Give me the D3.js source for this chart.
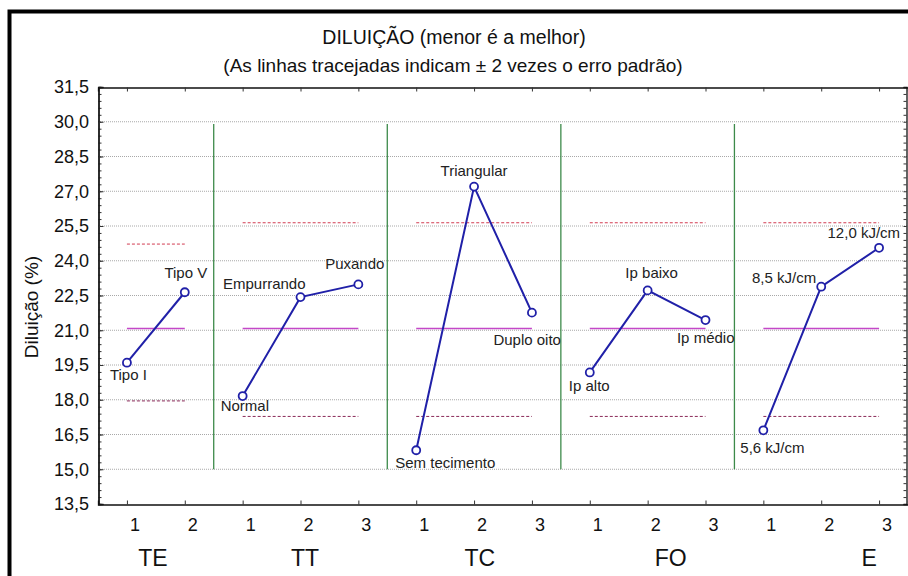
<!DOCTYPE html>
<html lang="pt">
<head>
<meta charset="UTF-8">
<title>Diluição</title>
<style>
    body { margin: 0; background: #fff; }
    svg { display: block; }
    text { font-family: "Liberation Sans", Arial, sans-serif; fill: #111; }
</style>
<script src="https://d3js.org/d3.v7.min.js"></script>
</head>
<body>
<svg width="908" height="576"></svg>
<script>
// factors and their levels
const groups = ["TE", "TT", "TC", "FO", "E"];
const levelNames = [
    ["Tipo I", "Tipo V"],
    ["Normal", "Empurrando", "Puxando"],
    ["Sem tecimento", "Triangular", "Duplo oito"],
    ["Ip alto", "Ip baixo", "Ip médio"],
    ["5,6 kJ/cm", "8,5 kJ/cm", "12,0 kJ/cm"]
];
// mean dilution (%) per level
const means = [
    [19.6, 22.64],
    [18.16, 22.43, 22.98],
    [15.82, 27.2, 21.76],
    [19.18, 22.72, 21.44],
    [16.68, 22.88, 24.56]
];
const grandMean = 21.08;
const upperLimit = [24.72, 25.64, 25.64, 25.64, 25.64];
const lowerLimit = [17.95, 17.28, 17.28, 17.28, 17.28];
const yTicks = [13.5, 15.0, 16.5, 18.0, 19.5, 21.0, 22.5, 24.0, 25.5, 27.0, 28.5, 30.0, 31.5];

// where each level label sits relative to its point
const labelPlace = [
    [{a: "start", dx: -17, dy: 12}, {a: "middle", dx: 1, dy: -20}],
    [{a: "start", dx: -22, dy: 10}, {a: "end", dx: 5, dy: -14}, {a: "end", dx: 26, dy: -21}],
    [{a: "start", dx: -21, dy: 12}, {a: "middle", dx: 0, dy: -16}, {a: "end", dx: 29, dy: 27}],
    [{a: "start", dx: -21, dy: 13}, {a: "middle", dx: 4, dy: -18}, {a: "end", dx: 29, dy: 18}],
    [{a: "start", dx: -23, dy: 17}, {a: "end", dx: -5, dy: -9}, {a: "end", dx: 21, dy: -15}]
];
const groupLabelSlot = [0.45, 3.08, 6.1, 9.4, 12.83];

const svg = d3.select("svg");
const plotL = 98, plotR = 908, plotT = 87, plotB = 504;

// every level gets one slot along x
let offsets = [], n = 0;
means.forEach(m => { offsets.push(n); n += m.length; });

const x = d3.scaleLinear().domain([-0.5, n - 0.5]).range([plotL, plotR]);
const y = d3.scaleLinear().domain([13.5, 31.5]).range([plotB, plotT]);
const fmt = v => d3.format(".1f")(v).replace(".", ",");

// frame (only top and left visible)
svg.append("rect")
    .attr("x", 9.5).attr("y", 11.5)
    .attr("width", 1200).attr("height", 1200)
    .attr("fill", "none").attr("stroke", "#000").attr("stroke-width", 4);

svg.append("text")
    .attr("x", 454).attr("y", 44)
    .attr("text-anchor", "middle")
    .style("font-size", "19.5px")
    .text("DILUIÇÃO (menor é a melhor)");

svg.append("text")
    .attr("x", 453).attr("y", 72)
    .attr("text-anchor", "middle")
    .style("font-size", "19px")
    .text("(As linhas tracejadas indicam ± 2 vezes o erro padrão)");

// grid
svg.append("g")
    .selectAll("line")
    .data(yTicks.filter(t => t > 13.5 && t < 31.5))
    .enter().append("line")
    .attr("x1", plotL).attr("x2", plotR)
    .attr("y1", d => y(d)).attr("y2", d => y(d))
    .attr("stroke", "#a8a8a8").attr("stroke-dasharray", "1,1");

// axes (tick marks inside)
const minor = d3.range(13.5, 31.51, 0.3);
svg.append("g").attr("transform", `translate(${plotL + 0.5},0)`)
    .call(d3.axisLeft(y).tickValues(minor).tickSize(-3).tickFormat(""));
svg.append("g").attr("transform", `translate(${plotL + 0.5},0)`)
    .call(d3.axisLeft(y).tickValues(yTicks).tickSize(-5).tickFormat(""));
svg.append("g").attr("transform", `translate(${plotR - 1.5},0)`)
    .call(d3.axisRight(y).tickValues(minor).tickSize(-3).tickFormat(""));

const slots = d3.range(n);
svg.append("g").attr("transform", `translate(0,${plotB + 0.5})`)
    .call(d3.axisBottom(x).tickValues(slots).tickSize(-4).tickFormat(""));
svg.append("g").attr("transform", `translate(0,${plotT + 0.5})`)
    .call(d3.axisTop(x).tickValues(slots).tickSize(-4).tickFormat(""));

svg.selectAll(".domain").attr("stroke", "#111").attr("stroke-width", 1.3);
svg.selectAll(".tick line").attr("stroke", "#333");

// y tick labels
svg.append("g").selectAll("text")
    .data(yTicks).enter().append("text")
    .attr("x", plotL - 9).attr("y", d => y(d))
    .attr("dy", "0.36em")
    .attr("text-anchor", "end")
    .style("font-size", "18px")
    .text(fmt);

svg.append("text")
    .attr("transform", `translate(38,${y(22.0)}) rotate(-90)`)
    .attr("text-anchor", "middle")
    .style("font-size", "19px")
    .text("Diluição (%)");

// separators between factors
svg.append("g").selectAll("line")
    .data(offsets.slice(1)).enter().append("line")
    .attr("x1", d => x(d - 0.5)).attr("x2", d => x(d - 0.5))
    .attr("y1", y(29.9)).attr("y2", y(15))
    .attr("stroke", "#3d8a4a").attr("stroke-width", 1.3);

const panel = svg.append("g").selectAll("g")
    .data(means).enter().append("g");

panel.each(function (m, g) {
    const p = d3.select(this);
    const x0 = x(offsets[g]), x1 = x(offsets[g] + m.length - 1);

    p.append("line")
        .attr("x1", x0).attr("x2", x1)
        .attr("y1", y(upperLimit[g])).attr("y2", y(upperLimit[g]))
        .attr("stroke", "#d23c52").attr("stroke-dasharray", "3,2");
    p.append("line")
        .attr("x1", x0).attr("x2", x1)
        .attr("y1", y(lowerLimit[g])).attr("y2", y(lowerLimit[g]))
        .attr("stroke", "#8a2a58").attr("stroke-dasharray", "3,2");
    p.append("line")
        .attr("x1", x0).attr("x2", x1)
        .attr("y1", Math.round(y(grandMean)) + 0.5).attr("y2", Math.round(y(grandMean)) + 0.5)
        .attr("stroke", "#c448c8").attr("stroke-width", 1.5);

    const line = d3.line()
        .x((d, j) => x(offsets[g] + j))
        .y(d => y(d));
    p.append("path")
        .attr("d", line(m))
        .attr("fill", "none")
        .attr("stroke", "#2020a8").attr("stroke-width", 2);

    p.selectAll("circle").data(m).enter().append("circle")
        .attr("cx", (d, j) => x(offsets[g] + j))
        .attr("cy", d => y(d))
        .attr("r", 4)
        .attr("fill", "#fff")
        .attr("stroke", "#2020a8").attr("stroke-width", 1.8);

    p.selectAll("text.lvl").data(m).enter().append("text")
        .attr("class", "lvl")
        .attr("x", (d, j) => x(offsets[g] + j) + labelPlace[g][j].dx)
        .attr("y", (d, j) => y(d) + labelPlace[g][j].dy)
        .attr("dy", "0.36em")
        .attr("text-anchor", (d, j) => labelPlace[g][j].a)
        .style("font-size", "15px")
        .style("fill", "#222")
        .text((d, j) => levelNames[g][j]);

    // level numbers under the axis
    p.selectAll("text.num").data(m).enter().append("text")
        .attr("class", "num")
        .attr("x", (d, j) => x(offsets[g] + j) + 8)
        .attr("y", plotB + 21)
        .attr("dy", "0.36em")
        .attr("text-anchor", "middle")
        .style("font-size", "18px")
        .text((d, j) => j + 1);

    p.append("text")
        .attr("x", x(groupLabelSlot[g]))
        .attr("y", plotB + 54)
        .attr("dy", "0.36em")
        .attr("text-anchor", "middle")
        .style("font-size", "23px")
        .text(groups[g]);
});
</script>
</body>
</html>
